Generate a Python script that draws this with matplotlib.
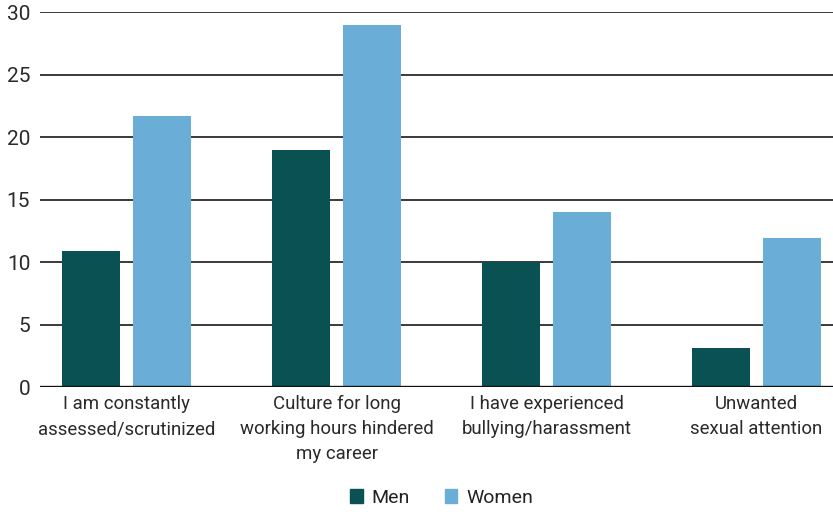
import numpy as np
import matplotlib.pyplot as plt
from matplotlib.patches import Patch

plt.rcParams['font.family'] = ['Roboto', 'DejaVu Sans']

categories = ["I am constantly\nassessed/scrutinized",
              "Culture for long\nworking hours hindered\nmy career",
              "I have experienced\nbullying/harassment",
              "Unwanted\nsexual attention"]
men = [10.9, 19.0, 10.0, 3.1]
women = [21.7, 29.0, 14.0, 11.9]

men_color = "#0a5153"
women_color = "#6aaed7"

fig = plt.figure(figsize=(8.33, 5.12), dpi=100)
ax = fig.add_axes([0.048, 0.244, 0.952, 0.732])

x = np.arange(len(categories))
w = 0.275
off = 0.168
ax.bar(x - off, men, w, color=men_color, zorder=3)
ax.bar(x + off, women, w, color=women_color, zorder=3)

ax.set_ylim(0, 30)
ax.set_xlim(-0.412, 3.364)
ax.set_yticks(range(0, 31, 5))
ax.yaxis.grid(True, color="#3a3a3a", linewidth=1.4, zorder=0)
ax.axhline(0, color="#111111", linewidth=1.7, zorder=4)
for s in ax.spines.values():
    s.set_visible(False)
ax.tick_params(axis='y', length=0, pad=7, labelsize=15, labelcolor="#2a2a2a")
ax.tick_params(axis='x', length=0, pad=6, labelsize=13.4, labelcolor="#2a2a2a")
ax.set_xticks(x)
ax.set_xticklabels(categories, linespacing=1.5)

handles = [Patch(color=men_color, label="Men"), Patch(color=women_color, label="Women")]
leg = fig.legend(handles=handles, loc="center", bbox_to_anchor=(0.53, 0.028), ncol=2,
                 frameon=False, fontsize=14, handlelength=0.65, handleheight=0.8,
                 handletextpad=0.45, columnspacing=1.8)
for t in leg.get_texts():
    t.set_color("#222222")

fig.savefig("out.png", dpi=100)
